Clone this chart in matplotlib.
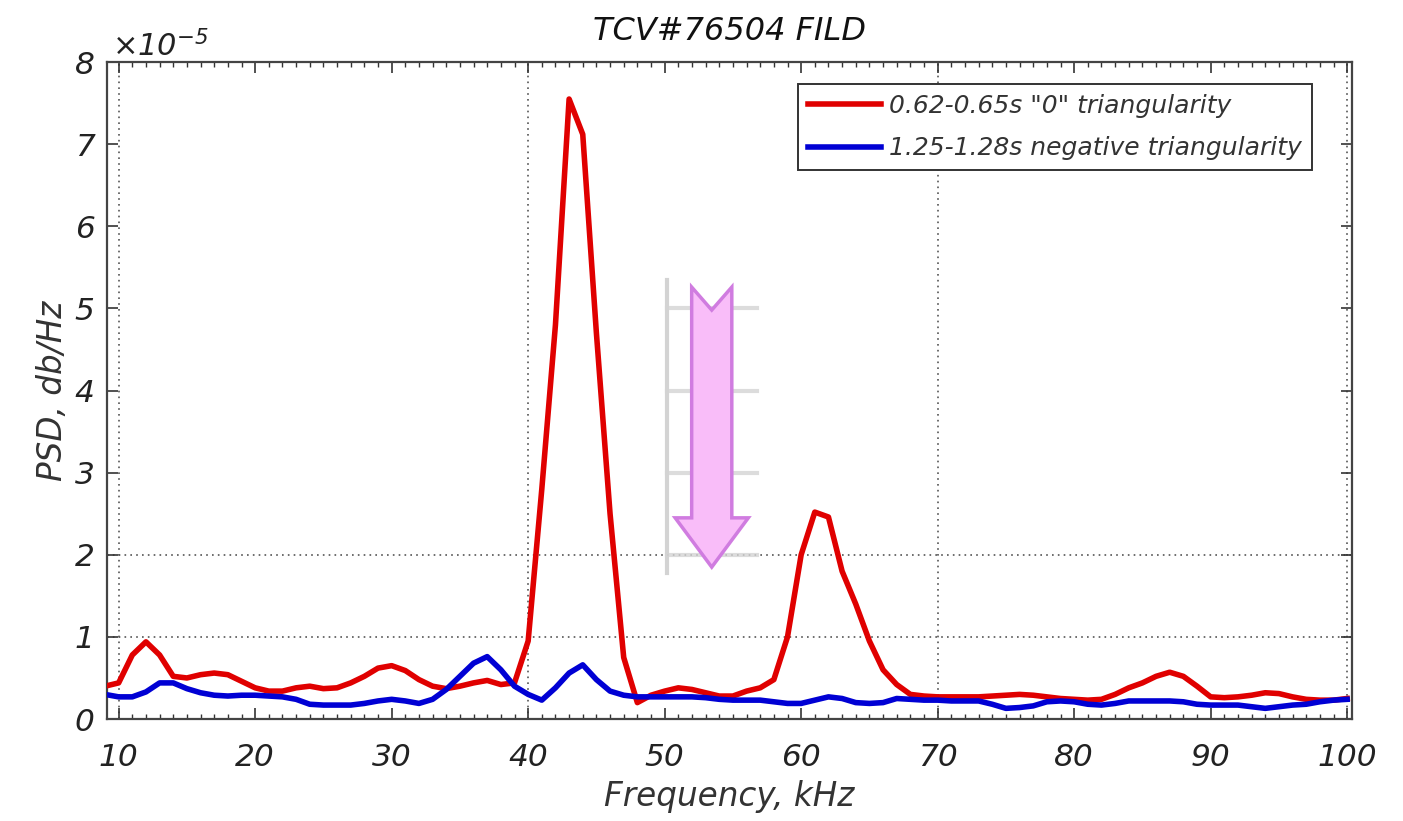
import numpy as np
import matplotlib
matplotlib.use("Agg")
import matplotlib.pyplot as plt
from matplotlib.patches import Polygon
from matplotlib.ticker import MultipleLocator

plt.rcParams['font.family'] = ['DejaVu Sans']
plt.rcParams['font.style'] = 'italic'
plt.rcParams['mathtext.fontset'] = 'custom'
plt.rcParams['mathtext.rm'] = 'DejaVu Sans:italic'
plt.rcParams['mathtext.it'] = 'DejaVu Sans:italic'

# frequency grid, kHz
freq = np.arange(9, 101)

# PSD in units of 1e-5
psd_zero_tri = [
    0.40, 0.44, 0.78, 0.94, 0.78, 0.52, 0.50, 0.54, 0.56, 0.54,   # 9-18
    0.46, 0.38, 0.34, 0.34, 0.38, 0.40, 0.37, 0.38, 0.44, 0.52,   # 19-28
    0.62, 0.65, 0.59, 0.48, 0.40, 0.37, 0.40, 0.44, 0.47, 0.42,   # 29-38
    0.44, 0.95, 2.80, 4.80, 7.55, 7.12, 4.70, 2.50, 0.75, 0.20,   # 39-48
    0.29, 0.34, 0.38, 0.36, 0.32, 0.28, 0.28, 0.34, 0.38, 0.48,   # 49-58
    1.00, 2.00, 2.52, 2.46, 1.80, 1.40, 0.95, 0.60, 0.42, 0.30,   # 59-68
    0.28, 0.27, 0.27, 0.27, 0.27, 0.28, 0.29, 0.30, 0.29, 0.27,   # 69-78
    0.25, 0.24, 0.23, 0.24, 0.30, 0.38, 0.44, 0.52, 0.57, 0.52,   # 79-88
    0.40, 0.27, 0.26, 0.27, 0.29, 0.32, 0.31, 0.27, 0.24, 0.23,   # 89-98
    0.23, 0.25,                                                   # 99-100
]
psd_neg_tri = [
    0.30, 0.27, 0.27, 0.33, 0.44, 0.44, 0.37, 0.32, 0.29, 0.28,   # 9-18
    0.29, 0.29, 0.28, 0.27, 0.24, 0.18, 0.17, 0.17, 0.17, 0.19,   # 19-28
    0.22, 0.24, 0.22, 0.19, 0.24, 0.36, 0.52, 0.68, 0.76, 0.60,   # 29-38
    0.40, 0.30, 0.23, 0.38, 0.56, 0.66, 0.48, 0.34, 0.29, 0.27,   # 39-48
    0.27, 0.27, 0.27, 0.27, 0.26, 0.24, 0.23, 0.23, 0.23, 0.21,   # 49-58
    0.19, 0.19, 0.23, 0.27, 0.25, 0.20, 0.19, 0.20, 0.25, 0.24,   # 59-68
    0.23, 0.23, 0.22, 0.22, 0.22, 0.18, 0.13, 0.14, 0.16, 0.21,   # 69-78
    0.22, 0.21, 0.18, 0.17, 0.19, 0.22, 0.22, 0.22, 0.22, 0.21,   # 79-88
    0.18, 0.17, 0.17, 0.17, 0.15, 0.13, 0.15, 0.17, 0.18, 0.21,   # 89-98
    0.23, 0.24,                                                   # 99-100
]
labels = ['0.62-0.65s "0" triangularity', '1.25-1.28s negative triangularity']

fig = plt.figure(figsize=(14.03, 8.21), dpi=100)
ax = fig.add_axes([0.0763, 0.1242, 0.8873, 0.8002])

ax.plot(freq, psd_zero_tri, color='#e00000', lw=4.0, label=labels[0], zorder=4)
ax.plot(freq, psd_neg_tri, color='#0000d4', lw=4.0, label=labels[1], zorder=4)

ax.set_xlim(9.15, 100.35)
ax.set_ylim(0, 8)

# sparse dotted grid like the original figure
for gx in [10, 40, 70, 100]:
    ax.axvline(gx, color='#555555', ls=(0, (1, 2.5)), lw=1.2, zorder=1)
for gy in [1, 2]:
    ax.axhline(gy, color='#555555', ls=(0, (1, 2.5)), lw=1.2, zorder=1)

# pasted down-arrow with its faint scale
ax_x0, ax_x1 = 50.17, 56.8
ax.plot([ax_x0, ax_x0], [1.78, 5.35], color='#c8c8c8', lw=3, zorder=2, alpha=0.8)
for ty in [2, 3, 4, 5]:
    ax.plot([ax_x0, ax_x1], [ty, ty], color='#d4d4d4', lw=3, zorder=2, alpha=0.8)

cx, top, notch, tip, head_base = 53.45, 5.26, 4.98, 1.85, 2.45
bw, hw = 1.47, 2.68
arrow = Polygon([(cx - bw, top), (cx, notch), (cx + bw, top), (cx + bw, head_base),
                 (cx + hw, head_base), (cx, tip), (cx - hw, head_base),
                 (cx - bw, head_base)], closed=True,
                facecolor='#f9bdf9', edgecolor='#d07ce0', lw=2.5, zorder=3)
ax.add_patch(arrow)

ax.xaxis.set_major_locator(MultipleLocator(10))
ax.xaxis.set_minor_locator(MultipleLocator(1))
ax.yaxis.set_major_locator(MultipleLocator(1))
ax.tick_params(which='both', direction='in', top=True, right=True, colors='#333333')
ax.tick_params(which='major', length=8, width=1.2, labelsize=22.5, labelcolor='#222222')
ax.tick_params(axis='x', which='major', pad=17)
ax.tick_params(axis='y', which='major', pad=9)
ax.tick_params(which='minor', length=3.5, width=1.0)
ax.tick_params(axis='y', which='minor', left=False, right=False)
for lab in ax.get_xticklabels() + ax.get_yticklabels():
    lab.set_fontstyle('italic')
for sp in ax.spines.values():
    sp.set_color('#444444')
    sp.set_linewidth(1.6)

ax.set_title('TCV#76504 FILD', fontsize=23, style='italic', color='#111111', pad=16)
ax.set_xlabel('Frequency, kHz', fontsize=23.5, style='italic', color='#333333', labelpad=6)
ax.set_ylabel('PSD, db/Hz', fontsize=23.5, style='italic', color='#333333', labelpad=4)
ax.text(0.004, 1.0, r'$\times10^{-5}$', transform=ax.transAxes, fontsize=22,
        color='#222222', ha='left', va='bottom')

leg = ax.legend(loc='upper right', bbox_to_anchor=(0.968, 0.967), fontsize=18,
                frameon=True, fancybox=False, edgecolor='#333333', framealpha=1,
                handlelength=2.9, handletextpad=0.35, borderpad=0.4, labelspacing=0.75,
                borderaxespad=0)
leg.get_frame().set_linewidth(1.4)
for t in leg.get_texts():
    t.set_color('#333333')
    t.set_fontstyle('italic')

fig.savefig('out.png', dpi=100)
